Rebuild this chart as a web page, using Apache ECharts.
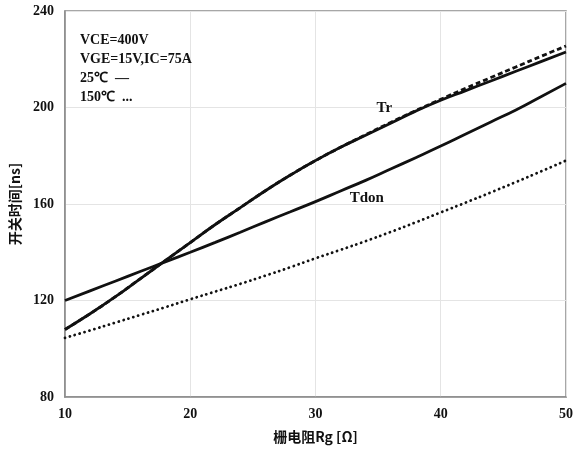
<!DOCTYPE html>
<html><head><meta charset="utf-8">
<script src="https://cdn.jsdelivr.net/npm/echarts@6/dist/echarts.min.js"></script>
<style>html,body{margin:0;padding:0;background:#fff}#c{width:576px;height:451px}</style>
</head><body><div id="c"></div>
<script>
var rg = [10,12,14,16,18,20,22,24,26,28,30,32,34,36,38,40,42,44,46,48,50];
var tr25 = [108,114.5,121.5,129,136.5,144,151.5,158.5,165.5,172,178,183.5,188.5,193.5,198.5,203,207,211,215,219,223];
var tr150 = [108,114.5,121.5,129,136.5,144,151.5,158.5,165.5,172,178,183.5,188.7,193.8,198.7,203.4,208,212.4,216.8,221.2,225.5];
var tdon25 = [120,124,128,132,136,140,144.1,148.3,152.6,156.8,161,165.4,169.8,174.5,179.2,184,189,194,199,204.5,210];
var tdon150 = [104.5,107.6,110.8,114,117.2,120.5,123.7,126.9,130.3,133.8,137.5,141,144.6,148.4,152.4,156.5,160.6,164.8,169.1,173.5,178];
var yTicks = [80,120,160,200,240];
var xTicks = [10,20,30,40,50];
var infoLines = ['VCE=400V','VGE=15V,IC=75A','25\u2103  \u2014','150\u2103  ...'];

function pairs(xs, ys){ return xs.map(function(x,i){return [x, ys[i]];}); }
var serif = 'Liberation Serif';
var chart = echarts.init(document.getElementById('c'));
chart.setOption({
  animation:false,
  grid:{left:64,right:5,top:11,bottom:54,show:true,borderColor:'#8a8a8a',borderWidth:1.5},
  xAxis:{type:'value',min:xTicks[0],max:xTicks[xTicks.length-1],interval:10,
    name:'栅电阻Rg [Ω]',nameLocation:'middle',nameGap:33,
    nameTextStyle:{fontFamily:'Noto Sans CJK SC',fontWeight:'bold',fontSize:14,color:'#111'},
    axisLine:{show:true,lineStyle:{color:'#8a8a8a',width:1.5}},axisTick:{show:false},
    axisLabel:{fontFamily:serif,fontWeight:'bold',fontSize:14,color:'#111',margin:10},
    splitLine:{show:true,lineStyle:{color:'#e4e4e4',width:1}}},
  yAxis:{type:'value',min:yTicks[0],max:yTicks[yTicks.length-1],interval:40,
    name:'开关时间[ns]',nameLocation:'middle',nameGap:43,
    nameTextStyle:{fontFamily:'Noto Sans CJK SC',fontWeight:'bold',fontSize:14,color:'#111'},
    axisLine:{show:true,lineStyle:{color:'#8a8a8a',width:1.5}},axisTick:{show:false},
    axisLabel:{fontFamily:serif,fontWeight:'bold',fontSize:14,color:'#111',margin:11},
    splitLine:{show:true,lineStyle:{color:'#e4e4e4',width:1}}},
  series:[
    {type:'line',data:pairs(rg,tdon150),smooth:true,symbol:'none',lineStyle:{color:'#111',width:2.8,type:[0.1,5],cap:'round'}},
    {type:'line',data:pairs(rg,tdon25),smooth:true,symbol:'none',lineStyle:{color:'#111',width:2.8}},
    {type:'line',data:pairs(rg,tr25),smooth:true,symbol:'none',lineStyle:{color:'#111',width:2.8}},
    {type:'line',data:pairs(rg,tr150),smooth:true,symbol:'none',lineStyle:{color:'#111',width:2.8,type:[5,3]}}
  ]
});
var trPos = chart.convertToPixel({gridIndex:0},[35.5,199.8]);
var tdPos = chart.convertToPixel({gridIndex:0},[34.1,162.5]);
var g = [
  {type:'text',x:trPos[0],y:trPos[1],style:{text:'Tr',font:'bold 15px "Liberation Serif"',fill:'#111',align:'center',verticalAlign:'middle'}},
  {type:'text',x:tdPos[0],y:tdPos[1],style:{text:'Tdon',font:'bold 15px "Liberation Serif"',fill:'#111',align:'center',verticalAlign:'middle'}}
];
infoLines.forEach(function(t,i){
  g.push({type:'text',x:80,y:40+i*19,style:{text:t,font:'bold 14px "Liberation Serif"',fill:'#111',align:'left',verticalAlign:'middle'}});
});
chart.setOption({graphic:g});
</script></body></html>
